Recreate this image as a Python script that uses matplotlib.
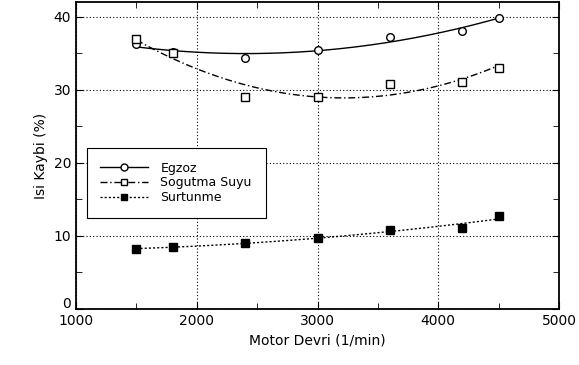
import matplotlib
matplotlib.use("Agg")
import matplotlib.pyplot as plt
import matplotlib.transforms as mtransforms
import numpy as np

# motor speed (1/min) and heat loss shares (%)
devir = [1500, 1800, 2400, 3000, 3600, 4200, 4500]
egzoz = [36.2, 35.2, 34.3, 35.5, 37.2, 38.1, 39.8]
sogutma = [36.9, 35.0, 29.0, 29.0, 30.8, 31.1, 33.0]
surtunme = [8.2, 8.5, 9.0, 9.7, 10.8, 11.1, 12.7]

plt.rcParams['font.family'] = ['DejaVu Sans']

fig = plt.figure(figsize=(5.79, 3.65), dpi=100)
ax = fig.add_axes([76/579, 1 - 309/365, (559 - 76)/579, (309 - 2)/365])

xs = np.linspace(1500, 4500, 200)
series = [
    (egzoz, 'Egzoz', '-', 'o', 'white'),
    (sogutma, 'Sogutma Suyu', (0, (5, 2, 1, 2)), 's', 'white'),
    (surtunme, 'Surtunme', (0, (1.5, 1.5)), 's', 'black'),
]
for vals, lab, ls, mk, fc in series:
    pf = np.polyfit(devir, vals, 2)
    ax.plot(xs, np.polyval(pf, xs), color='black', lw=1, ls=ls, zorder=2)
    ax.plot(devir, vals, ls='none', marker=mk, ms=5.5, mfc=fc, mec='black',
            mew=1, zorder=3)
    ax.plot([], [], color='black', lw=1, ls=ls, marker=mk, ms=5, mfc=fc,
            mec='black', label=lab)

ax.set_xlim(1000, 5000)
ax.set_ylim(0, 42)
ax.set_xticks([1000, 2000, 3000, 4000, 5000])
ax.set_xticks([1500, 2500, 3500, 4500], minor=True)
ax.set_yticks([0, 10, 20, 30, 40])
ax.set_yticks([5, 15, 25, 35], minor=True)
ax.tick_params(which='both', direction='in', top=True, right=True,
               labelsize=10, colors='black')
ax.tick_params(which='major', length=5)
ax.tick_params(which='minor', length=4)
ax.grid(True, which='major', ls=(0, (1, 2)), color='black', lw=0.8)
for s in ax.spines.values():
    s.set_linewidth(1.3)

# lift the "0" label a little so it clears the "1000" below it
fig.canvas.draw()
zero = ax.get_yticklabels()[0]
zero.set_transform(zero.get_transform() +
                   mtransforms.ScaledTranslation(0, 6/100, fig.dpi_scale_trans))

ax.set_xlabel('Motor Devri (1/min)', fontsize=10)
ax.set_ylabel('Isi Kaybi (%)', fontsize=10)

leg = ax.legend(loc='upper left', bbox_to_anchor=(0.022, 0.525), fontsize=9,
                frameon=True, fancybox=False, edgecolor='black',
                framealpha=1, handlelength=3.8, borderpad=1.1,
                labelspacing=0.15, handletextpad=1.0, borderaxespad=0)
leg.get_frame().set_linewidth(0.8)

fig.savefig('out.png', dpi=100)
